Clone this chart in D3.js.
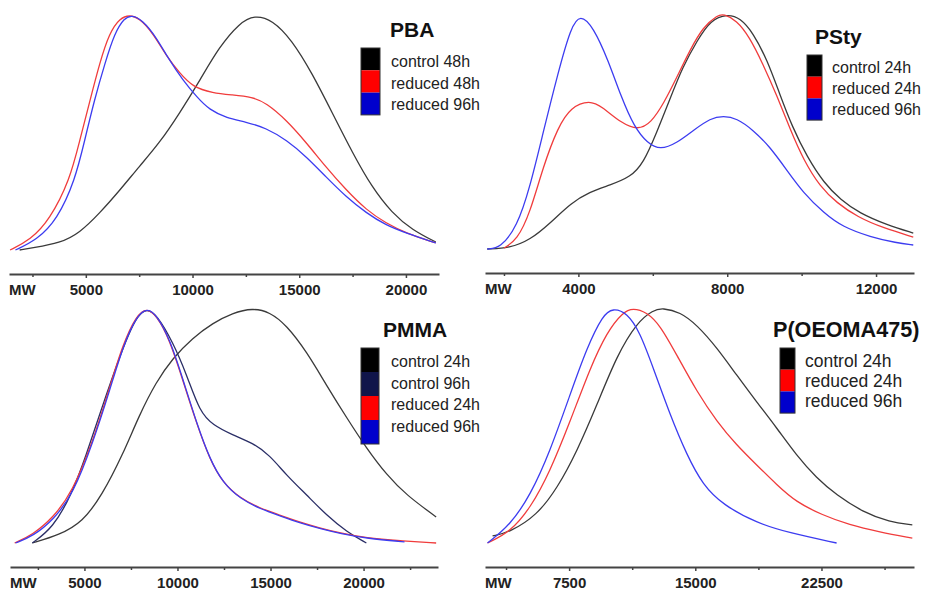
<!DOCTYPE html>
<html>
<head>
<meta charset="utf-8">
<script src="https://cdn.jsdelivr.net/npm/d3@7"></script>
<style>
  body { margin: 0; background: #fff; }
  svg { display: block; font-family: 'Liberation Sans', Arial, sans-serif; }
</style>
</head>
<body>
<svg id="chart" width="934" height="592"></svg>
<script>
// ---- datos: [MW, intensidad normalizada] ----
const pbaControl48 = [[1900,0],[2500,0.009],[3800,0.03],[4700,0.072],[5650,0.157],[6600,0.255],[7500,0.355],[8450,0.455],[9400,0.583],[10350,0.723],[11250,0.864],[12200,0.966],[12900,1.0],[13750,0.979],[14650,0.894],[15600,0.753],[16550,0.583],[17500,0.413],[18400,0.268],[19350,0.157],[20300,0.085],[21400,0.034]];
const pbaReduced48 = [[1450,0],[2400,0.043],[3300,0.128],[4250,0.298],[4720,0.468],[5200,0.638],[5650,0.796],[6100,0.923],[6600,0.987],[7050,1.0],[7500,0.987],[8150,0.923],[8800,0.821],[9400,0.753],[10000,0.694],[10950,0.668],[11850,0.66],[12800,0.651],[13450,0.626],[14400,0.553],[15350,0.455],[16250,0.353],[17200,0.255],[18150,0.17],[19050,0.115],[20000,0.072],[21400,0.03]];
const pbaReduced96 = [[1700,0],[2700,0.043],[3650,0.128],[4500,0.298],[4950,0.468],[5400,0.638],[5900,0.796],[6350,0.923],[6800,0.987],[7150,1.0],[7650,0.979],[8300,0.906],[8900,0.809],[9550,0.723],[10200,0.651],[10800,0.596],[11600,0.562],[12500,0.545],[13450,0.519],[14400,0.468],[15350,0.396],[16250,0.311],[17200,0.226],[18150,0.157],[19050,0.106],[20000,0.072],[21400,0.03]];

const pstyControl24 = [[1550,0],[2150,0.004],[2700,0.038],[3250,0.111],[3800,0.196],[4300,0.243],[4850,0.272],[5400,0.306],[5750,0.366],[6100,0.494],[6450,0.634],[6800,0.774],[7200,0.889],[7550,0.974],[8000,1.0],[8350,0.983],[8700,0.919],[9075,0.804],[9400,0.664],[9750,0.519],[10150,0.391],[10600,0.281],[11050,0.209],[11550,0.153],[12300,0.102],[13000,0.068]];
const pstyReduced24 = [[2000,0.004],[2350,0.038],[2700,0.153],[3050,0.349],[3450,0.519],[3800,0.604],[4300,0.634],[4650,0.604],[5150,0.536],[5600,0.506],[5950,0.536],[6300,0.621],[6650,0.732],[7000,0.847],[7350,0.945],[7750,0.996],[7900,1.0],[8250,0.974],[8600,0.902],[8950,0.791],[9350,0.647],[9700,0.506],[10050,0.379],[10500,0.264],[10950,0.196],[11500,0.136],[12200,0.089],[13000,0.051]];
const pstyReduced96 = [[1550,0],[1900,0.004],[2350,0.094],[2700,0.264],[3050,0.494],[3450,0.749],[3800,0.945],[4050,1.0],[4400,0.945],[4800,0.804],[5150,0.647],[5500,0.519],[5850,0.451],[6200,0.421],[6650,0.451],[7100,0.506],[7550,0.557],[7900,0.566],[8250,0.557],[8700,0.506],[9150,0.434],[9600,0.336],[10050,0.238],[10600,0.153],[11100,0.094],[11850,0.051],[12550,0.026],[13000,0.017]];

const pmmaControl24 = [[2200,0],[3650,0.034],[4900,0.089],[5950,0.204],[7050,0.374],[7950,0.545],[8850,0.685],[9750,0.787],[10800,0.872],[11900,0.936],[12950,0.979],[14050,1.0],[14950,0.983],[15850,0.928],[16950,0.813],[18000,0.672],[19100,0.532],[20150,0.404],[21250,0.289],[22300,0.204],[23900,0.111]];
const pmmaControl96 = [[2200,0],[3300,0.064],[4300,0.204],[5100,0.374],[5800,0.545],[7050,0.83],[7800,0.965],[8350,1.0],[8900,0.97],[9750,0.855],[10500,0.715],[11200,0.557],[11900,0.502],[12950,0.46],[14050,0.426],[14950,0.374],[15850,0.289],[16950,0.204],[18000,0.119],[19100,0.047],[20150,0]];
const pmmaReduced24 = [[1250,0],[2200,0.034],[3300,0.106],[4350,0.217],[5450,0.43],[6350,0.66],[7050,0.843],[7800,0.97],[8350,1.0],[8850,0.97],[9550,0.872],[10250,0.702],[11000,0.515],[11700,0.362],[12400,0.26],[13350,0.191],[14400,0.149],[15500,0.119],[16550,0.089],[17650,0.064],[18700,0.043],[20150,0.021],[21950,0.009],[23900,0]];
const pmmaReduced96 = [[1300,0],[2250,0.03],[3350,0.1],[4400,0.21],[5450,0.425],[6400,0.66],[7100,0.845],[7850,0.972],[8400,1.0],[8900,0.968],[9600,0.865],[10300,0.695],[11050,0.505],[11750,0.355],[12450,0.255],[13400,0.187],[14450,0.145],[15550,0.114],[16600,0.085],[17700,0.06],[18750,0.04],[20200,0.019],[22200,0.005]];

const oeomaControl24 = [[2950,0.03],[4000,0.047],[5600,0.119],[6800,0.234],[7950,0.387],[9150,0.587],[10350,0.8],[11550,0.94],[12500,0.991],[13050,1.0],[14100,0.983],[15100,0.928],[16300,0.83],[17450,0.715],[18650,0.6],[19850,0.489],[21000,0.374],[22200,0.277],[23400,0.204],[24950,0.132],[26550,0.089],[27900,0.077]];
const oeomaReduced24 = [[2650,0],[4000,0.047],[5200,0.149],[6350,0.302],[7550,0.515],[8750,0.745],[9750,0.898],[10700,0.983],[11300,1.0],[12100,0.983],[12900,0.928],[13900,0.8],[15100,0.643],[16300,0.515],[17450,0.417],[18650,0.332],[19850,0.247],[21000,0.174],[22550,0.119],[24150,0.077],[25950,0.047],[27900,0.021]];
const oeomaReduced96 = [[2650,0],[4000,0.077],[5200,0.204],[6350,0.387],[7550,0.63],[8550,0.83],[9500,0.97],[10100,1.0],[10950,0.979],[11700,0.898],[12500,0.745],[13500,0.545],[14500,0.374],[15450,0.247],[16650,0.162],[18650,0.085],[20600,0.043],[23400,0]];

// ticks
const pbaTicks = [5000, 10000, 15000, 20000];
const pbaMinor = [2500, 7500, 12500, 17500];
const pstyTicks = [4000, 8000, 12000];
const pstyMinor = [2000, 6000, 10000];
const pmmaTicks = [5000, 10000, 15000, 20000];
const pmmaMinor = [2500, 7500, 12500, 17500, 22500];
const oeomaTicks = [7500, 15000, 22500];
const oeomaMinor = [3750, 11250, 18750, 26250];

// colores
const cBlack = '#3a3a3a', cRed = '#f03c3c', cBlue = '#3c3cf0', cNavy = '#2a2e66';

const panels = [
  {
    title: 'PBA', domain: [1400, 21550], x0: 9, x1: 439, top: 15, bottom: 250, axisY: 274,
    ticks: pbaTicks, minor: pbaMinor,
    series: [
      { label: 'control 48h', data: pbaControl48, color: cBlack, swatch: '#000' },
      { label: 'reduced 48h', data: pbaReduced48, color: cRed, swatch: '#ff0000' },
      { label: 'reduced 96h', data: pbaReduced96, color: cBlue, swatch: '#0000cc' }
    ],
    legend: { tx: 390, ty: 37, sx: 361, sy: 48, sw: 19, sh: 22.3, lx: 391, ly: 67, step: 21.5, size: 16, tsize: 21 }
  },
  {
    title: 'PSty', domain: [1490, 13020], x0: 485, x1: 914, top: 14, bottom: 249, axisY: 273,
    ticks: pstyTicks, minor: pstyMinor,
    series: [
      { label: 'control 24h', data: pstyControl24, color: cBlack, swatch: '#000' },
      { label: 'reduced 24h', data: pstyReduced24, color: cRed, swatch: '#ff0000' },
      { label: 'reduced 96h', data: pstyReduced96, color: cBlue, swatch: '#0000cc' }
    ],
    legend: { tx: 815, ty: 44, sx: 807, sy: 55, sw: 15, sh: 21.7, lx: 832, ly: 73, step: 21, size: 16, tsize: 21 }
  },
  {
    title: 'PMMA', domain: [1000, 24000], x0: 10, x1: 438, top: 308, bottom: 543, axisY: 567,
    ticks: pmmaTicks, minor: pmmaMinor,
    series: [
      { label: 'control 24h', data: pmmaControl24, color: cBlack, swatch: '#000' },
      { label: 'control 96h', data: pmmaControl96, color: cNavy, swatch: '#10154a' },
      { label: 'reduced 24h', data: pmmaReduced24, color: cRed, swatch: '#ff0000' },
      { label: 'reduced 96h', data: pmmaReduced96, color: cBlue, swatch: '#0000cc' }
    ],
    legend: { tx: 383, ty: 337, sx: 361, sy: 348, sw: 18, sh: 24, lx: 391, ly: 367, step: 21.7, size: 16, tsize: 21 }
  },
  {
    title: 'P(OEOMA475)', domain: [2500, 28000], x0: 485, x1: 914, top: 308, bottom: 543, axisY: 567,
    ticks: oeomaTicks, minor: oeomaMinor,
    series: [
      { label: 'control 24h', data: oeomaControl24, color: cBlack, swatch: '#000' },
      { label: 'reduced 24h', data: oeomaReduced24, color: cRed, swatch: '#ff0000' },
      { label: 'reduced 96h', data: oeomaReduced96, color: cBlue, swatch: '#0000cc' }
    ],
    legend: { tx: 773, ty: 337, sx: 780, sy: 348, sw: 15, sh: 21.7, lx: 805, ly: 367, step: 20, size: 17.5, tsize: 21.6 }
  }
];

const svg = d3.select('#chart');

panels.forEach(p => drawPanel(p));

/**
 * Dibuja un panel: curvas, eje MW y leyenda
 */
function drawPanel(p) {
  const x = d3.scaleLinear().domain(p.domain).range([p.x0, p.x1]);
  const y = d3.scaleLinear().domain([0, 1]).range([p.bottom, p.top]);
  const g = svg.append('g');

  // Curvas (suavizadas)
  const line = d3.line()
    .x(d => x(d[0]))
    .y(d => y(d[1]))
    .curve(d3.curveBasis);

  p.series.forEach(s => {
    g.append('path')
      .datum(s.data)
      .attr('d', line)
      .attr('fill', 'none')
      .attr('stroke', s.color)
      .attr('stroke-width', 1.3);
  });

  // Eje: ticks menores
  g.append('g')
    .attr('transform', `translate(0,${p.axisY})`)
    .call(d3.axisBottom(x).tickValues(p.minor).tickSize(3).tickSizeOuter(0).tickFormat(''))
    .call(a => a.select('.domain').remove())
    .call(a => a.selectAll('line').attr('stroke', '#444').attr('stroke-width', 1.5));

  // Eje: ticks principales
  const axis = g.append('g')
    .attr('transform', `translate(0,${p.axisY})`)
    .call(d3.axisBottom(x).tickValues(p.ticks).tickSize(4).tickPadding(6).tickSizeOuter(0).tickFormat(d3.format('d')));

  axis.select('.domain').attr('stroke', '#444').attr('stroke-width', 2);
  axis.selectAll('line').attr('stroke', '#444').attr('stroke-width', 1.5);
  axis.selectAll('text')
    .attr('font-size', 15)
    .attr('font-weight', 700)
    .attr('font-family', "'Liberation Sans', Arial, sans-serif")
    .attr('fill', '#222');

  // Etiqueta MW
  g.append('text')
    .attr('x', p.x0)
    .attr('y', p.axisY + 10)
    .attr('dy', '0.71em')
    .attr('font-size', 15)
    .attr('font-weight', 700)
    .attr('fill', '#222')
    .text('MW');

  // Leyenda
  const L = p.legend;
  g.append('text')
    .attr('x', L.tx)
    .attr('y', L.ty)
    .attr('font-size', L.tsize)
    .attr('font-weight', 700)
    .attr('fill', '#111')
    .text(p.title);

  p.series.forEach((s, i) => {
    g.append('rect')
      .attr('x', L.sx)
      .attr('y', L.sy + i * L.sh)
      .attr('width', L.sw)
      .attr('height', L.sh)
      .attr('fill', s.swatch);

    g.append('text')
      .attr('x', L.lx)
      .attr('y', L.ly + i * L.step)
      .attr('font-size', L.size)
      .attr('fill', '#222')
      .text(s.label);
  });

  g.append('rect')
    .attr('x', L.sx)
    .attr('y', L.sy)
    .attr('width', L.sw)
    .attr('height', L.sh * p.series.length)
    .attr('fill', 'none')
    .attr('stroke', '#333')
    .attr('stroke-width', 1);
}
</script>
</body>
</html>
